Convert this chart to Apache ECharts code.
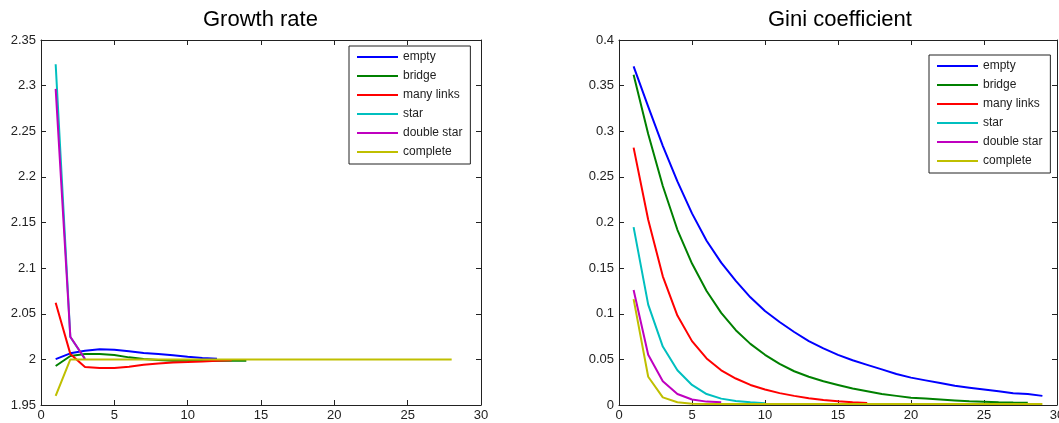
<!DOCTYPE html>
<html>
<head>
<meta charset="utf-8">
<script src="https://cdn.jsdelivr.net/npm/echarts@6/dist/echarts.min.js"></script>
<style>
html,body{margin:0;padding:0;background:#fff;overflow:hidden;}
#chart{width:1059px;height:423px;}
</style>
</head>
<body>
<div id="chart"></div>
<script>
// ---- data ----
const seriesNames = ['empty', 'bridge', 'many links', 'star', 'double star', 'complete'];
const seriesColors = ['#0000ff', '#008000', '#ff0000', '#00bfbf', '#bf00bf', '#bfbf00'];
const chartTitles = ['Growth rate', 'Gini coefficient'];

// Growth rate (x = 1, 2, 3, ...)
const growthEmpty = [2.0003, 2.0066, 2.0095, 2.0110, 2.0106, 2.0088, 2.0069, 2.0058, 2.0044, 2.0029, 2.0015, 2.0006];
const growthBridge = [1.9927, 2.0037, 2.0058, 2.0058, 2.0047, 2.0022, 2.0004, 1.9993, 1.9986, 1.9985, 1.9985, 1.9985, 1.9985, 1.9985];
const growthManyLinks = [2.0620, 2.0060, 1.9916, 1.9905, 1.9905, 1.9920, 1.9942, 1.9956, 1.9967, 1.9972, 1.9978, 1.9985, 1.9990];
const growthStar = [2.3235, 2.0245, 2.0005];
const growthDoubleStar = [2.2965, 2.0248, 2.0004];
const growthComplete = [1.9600, 2.0000, 2.0000, 2.0000, 2.0000, 2.0000, 2.0000, 2.0000, 2.0000, 2.0000,
  2.0000, 2.0000, 2.0000, 2.0000, 2.0000, 2.0000, 2.0000, 2.0000, 2.0000, 2.0000,
  2.0000, 2.0000, 2.0000, 2.0000, 2.0000, 2.0000, 2.0000, 2.0000];

// Gini coefficient (x = 1, 2, 3, ...)
const giniEmpty = [0.371, 0.327, 0.284, 0.245, 0.210, 0.180, 0.156, 0.136, 0.118, 0.103,
  0.091, 0.080, 0.070, 0.062, 0.055, 0.049, 0.044, 0.039, 0.034, 0.030,
  0.027, 0.024, 0.021, 0.019, 0.017, 0.015, 0.013, 0.012, 0.010];
const giniBridge = [0.362, 0.297, 0.240, 0.192, 0.155, 0.125, 0.101, 0.082, 0.067, 0.055,
  0.045, 0.037, 0.031, 0.026, 0.022, 0.018, 0.015, 0.012, 0.010, 0.008,
  0.007, 0.006, 0.005, 0.004, 0.0035, 0.003, 0.0027, 0.0025];
const giniManyLinks = [0.282, 0.203, 0.141, 0.098, 0.070, 0.051, 0.038, 0.029, 0.022, 0.017,
  0.013, 0.010, 0.0075, 0.0055, 0.004, 0.003, 0.0022];
const giniStar = [0.195, 0.110, 0.064, 0.038, 0.022, 0.012, 0.007, 0.0044, 0.003, 0.002];
const giniDoubleStar = [0.126, 0.055, 0.026, 0.012, 0.006, 0.0037, 0.003];
const giniComplete = [0.116, 0.031, 0.0084, 0.003, 0.0015, 0.001, 0.001, 0.001, 0.001, 0.001,
  0.001, 0.001, 0.001, 0.001, 0.001, 0.001, 0.001, 0.001, 0.001, 0.001,
  0.001, 0.001, 0.001, 0.001, 0.001, 0.001, 0.001, 0.001, 0.001];

const growthData = [growthEmpty, growthBridge, growthManyLinks, growthStar, growthDoubleStar, growthComplete];
const giniData = [giniEmpty, giniBridge, giniManyLinks, giniStar, giniDoubleStar, giniComplete];

// ---- chart ----
const FONT = '"Liberation Sans", Arial, sans-serif';
const chart = echarts.init(document.getElementById('chart'), null, {renderer: 'canvas'});

const toPairs = arr => arr.map((v, i) => [i + 1, v]);

function xAxisDef(gridIndex, top) {
  return {
    type: 'value', gridIndex: gridIndex, position: top ? 'top' : 'bottom',
    min: 0, max: 30, interval: 5,
    axisLine: {show: true, onZero: false, lineStyle: {color: '#222', width: 1}},
    axisTick: {show: true, inside: true, length: 5, lineStyle: {color: '#222'}},
    axisLabel: {show: !top, color: '#222', fontSize: 13, fontFamily: FONT, margin: 4,
      hideOverlap: false, showMinLabel: true, showMaxLabel: true},
    splitLine: {show: false}
  };
}
function yAxisDef(gridIndex, right, min, max, interval, decimals) {
  return {
    type: 'value', gridIndex: gridIndex, position: right ? 'right' : 'left',
    min: min, max: max, interval: interval,
    axisLine: {show: true, onZero: false, lineStyle: {color: '#222', width: 1}},
    axisTick: {show: true, inside: true, length: 5, lineStyle: {color: '#222'}},
    axisLabel: {show: !right, color: '#222', fontSize: 13, fontFamily: FONT, margin: 5,
      formatter: v => (+v.toFixed(decimals)).toString()},
    splitLine: {show: false}
  };
}

const series = [];
seriesNames.forEach((name, i) => {
  series.push({
    name: name, type: 'line', xAxisIndex: 0, yAxisIndex: 0,
    data: toPairs(growthData[i]), symbol: 'none', showSymbol: false, smooth: false,
    lineStyle: {color: seriesColors[i], width: 2}, itemStyle: {color: seriesColors[i]},
    animation: false
  });
});
seriesNames.forEach((name, i) => {
  series.push({
    name: name, type: 'line', xAxisIndex: 2, yAxisIndex: 2,
    data: toPairs(giniData[i]), symbol: 'none', showSymbol: false, smooth: false,
    lineStyle: {color: seriesColors[i], width: 2}, itemStyle: {color: seriesColors[i]},
    animation: false
  });
});

function legendDef(left, top) {
  return {
    data: seriesNames.map((n, i) => ({name: n, icon: 'rect', itemStyle: {color: seriesColors[i]}})),
    orient: 'vertical', left: left, top: top,
    backgroundColor: '#fff', borderColor: '#222', borderWidth: 1,
    padding: [4, 8, 5, 8], itemGap: 5, itemWidth: 41, itemHeight: 2,
    textStyle: {color: '#222', fontSize: 12, fontFamily: FONT, lineHeight: 14, height: 14},
    selectedMode: false
  };
}

function titleDef(text, left) {
  return {text: text, left: left, top: 4,
    textStyle: {fontSize: 22, fontWeight: 'normal', color: '#000', fontFamily: FONT}};
}

chart.setOption({
  animation: false,
  backgroundColor: '#fff',
  title: [titleDef(chartTitles[0], 198), titleDef(chartTitles[1], 763)],
  grid: [
    {left: 41, top: 40, width: 440, height: 365, containLabel: false, outerBoundsMode: 'none'},
    {left: 619, top: 40, width: 438, height: 365, containLabel: false, outerBoundsMode: 'none'}
  ],
  xAxis: [xAxisDef(0, false), xAxisDef(0, true), xAxisDef(1, false), xAxisDef(1, true)],
  yAxis: [
    yAxisDef(0, false, 1.95, 2.35, 0.05, 2), yAxisDef(0, true, 1.95, 2.35, 0.05, 2),
    yAxisDef(1, false, 0, 0.4, 0.05, 2), yAxisDef(1, true, 0, 0.4, 0.05, 2)
  ],
  legend: [legendDef(349, 46), legendDef(929, 55)],
  series: series
});
</script>
</body>
</html>
